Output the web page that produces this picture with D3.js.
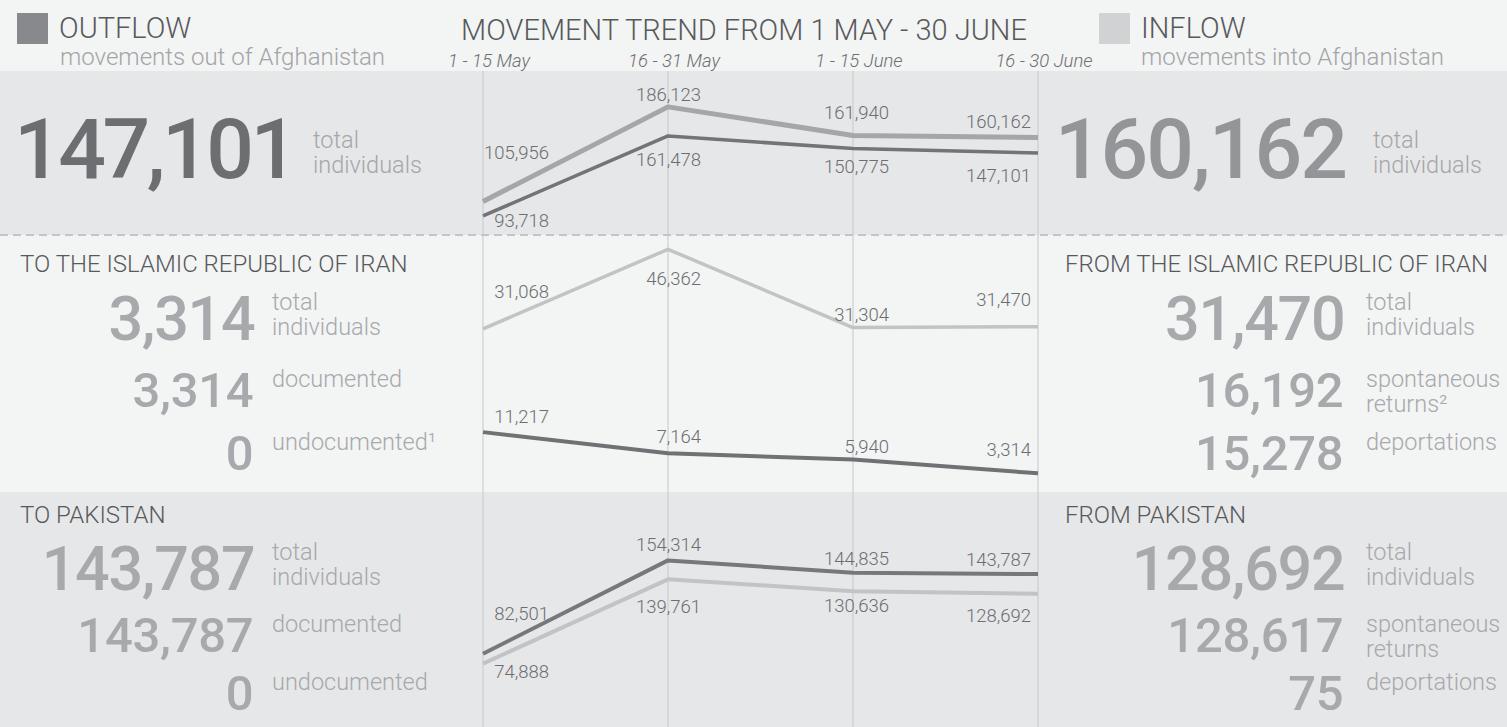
<!DOCTYPE html>
<html><head><meta charset="utf-8">
<script src="https://cdn.jsdelivr.net/npm/d3@7"></script>
<style>body{margin:0;background:#f3f4f4;}svg{display:block;font-family:Roboto,"Noto Sans",sans-serif;}</style>
</head><body><svg id="c" width="1507" height="727"></svg>
<script>
// ---------- DATA ----------
const periods = ["1 - 15 May", "16 - 31 May", "1 - 15 June", "16 - 30 June"];
const totalInflow  = [105956, 186123, 161940, 160162];
const totalOutflow = [93718, 161478, 150775, 147101];
const iranInflow   = [31068, 46362, 31304, 31470];
const iranOutflow  = [11217, 7164, 5940, 3314];
const pakOutflow   = [82501, 154314, 144835, 143787];
const pakInflow    = [74888, 139761, 130636, 128692];

const outflowTotal = 147101;
const inflowTotal = 160162;
const iranOutValues = [3314, 3314, 0];
const iranOutLabels = ["total\nindividuals", "documented", "undocumented¹"];
const pakOutValues = [143787, 143787, 0];
const pakOutLabels = ["total\nindividuals", "documented", "undocumented"];
const iranInValues = [31470, 16192, 15278];
const iranInLabels = ["total\nindividuals", "spontaneous\nreturns²", "deportations"];
const pakInValues = [128692, 128617, 75];
const pakInLabels = ["total\nindividuals", "spontaneous\nreturns", "deportations"];

// ---------- LAYOUT ----------
const W = 1507, H = 727;
const svg = d3.select("#c");
const fmt = d3.format(",");
const LIGHT = 300;
const NUMW = 500;

// backgrounds
const bands = [[0, 71, "#f3f4f4"], [71, 235, "#e6e7e8"], [235, 492, "#f3f4f4"], [492, 727, "#e6e7e8"]];
svg.selectAll("rect.bg").data(bands).join("rect").attr("class", "bg")
  .attr("x", 0).attr("y", d => d[0]).attr("width", W).attr("height", d => d[1] - d[0]).attr("fill", d => d[2]);

// x scale
const x = d3.scalePoint().domain(periods).range([483, 1038]);

// vertical grid lines
svg.selectAll("line.vg").data(periods).join("line").attr("class", "vg")
  .attr("x1", d => x(d)).attr("x2", d => x(d)).attr("y1", 71).attr("y2", H)
  .attr("stroke", "#c6c7c9").attr("stroke-width", 1);

// dashed separator
svg.append("line").attr("x1", 0).attr("x2", W).attr("y1", 235).attr("y2", 235)
  .attr("stroke", "#c4c5c7").attr("stroke-width", 1.8).attr("stroke-dasharray", "8,5");

// header
svg.append("rect").attr("x", 17).attr("y", 13).attr("width", 31).attr("height", 31).attr("fill", "#88898c");
svg.append("text").attr("x", 59).attr("y", 38).attr("font-size", 29).attr("font-weight", LIGHT).attr("fill", "#58595b").text("OUTFLOW");
svg.append("text").attr("x", 60).attr("y", 65).attr("font-size", 24).attr("font-weight", LIGHT).attr("fill", "#a3a4a7").text("movements out of Afghanistan");
svg.append("text").attr("x", 744).attr("y", 40).attr("text-anchor", "middle").attr("font-size", 29).attr("font-weight", LIGHT).attr("fill", "#58595b").text("MOVEMENT TREND FROM 1 MAY - 30 JUNE");
svg.append("rect").attr("x", 1099).attr("y", 13).attr("width", 31).attr("height", 31).attr("fill", "#d1d2d4");
svg.append("text").attr("x", 1141).attr("y", 38).attr("font-size", 29).attr("font-weight", LIGHT).attr("fill", "#58595b").text("INFLOW");
svg.append("text").attr("x", 1141).attr("y", 65).attr("font-size", 24).attr("font-weight", LIGHT).attr("fill", "#a3a4a7").text("movements into Afghanistan");

// period labels
svg.selectAll("text.per").data(periods).join("text").attr("class", "per")
  .attr("x", d => x(d) + 6).attr("y", 67).attr("text-anchor", "middle")
  .attr("font-size", 18.5).attr("font-style", "italic").attr("font-weight", LIGHT).attr("fill", "#6d6e71").text(d => d);

// ---------- LINE PANELS ----------
const labelDx = [66, 33, 36, -7];
const panels = [
  { y: d3.scaleLinear().domain([77540, 216525]).range([235, 71]),
    series: [
      { values: totalInflow, color: "#a5a6a9", width: 5, dy: [-42.5, -6, -16, -9.5] },
      { values: totalOutflow, color: "#737477", width: 3.5, dy: [11, 30, 24.5, 29] }
    ] },
  { y: d3.scaleLinear().domain([0, 49000]).range([490.5, 235.55]),
    series: [
      { values: iranInflow, color: "#c2c3c5", width: 3.5, dy: [-31, 36, -7, -21] },
      { values: iranOutflow, color: "#707174", width: 4, dy: [-9.5, -10, -7, -17] }
    ] },
  { y: d3.scaleLinear().domain([26150, 206920]).range([727, 492]),
    series: [
      { values: pakOutflow, color: "#77787b", width: 4, dy: [-33.7, -9.7, -7.7, -8.1] },
      { values: pakInflow, color: "#c2c3c5", width: 4, dy: [14.7, 34, 20.5, 28] }
    ] }
];

panels.forEach(p => {
  p.series.forEach(s => {
    const line = d3.line().x((d, i) => x(periods[i])).y(d => p.y(d));
    svg.append("path").datum(s.values).attr("d", line)
      .attr("fill", "none").attr("stroke", s.color).attr("stroke-width", s.width)
      .attr("stroke-linejoin", "round");
  });
  p.series.forEach(s => {
    svg.append("g").selectAll("text").data(s.values).join("text")
      .attr("x", (d, i) => x(periods[i]) + labelDx[i])
      .attr("y", (d, i) => p.y(d) + s.dy[i])
      .attr("text-anchor", "end").attr("font-size", 18.5).attr("font-weight", LIGHT)
      .attr("fill", "#6d6e71").text(d => fmt(d));
  });
});

// ---------- SUMMARY BLOCKS ----------
svg.append("text").attr("x", 14).attr("y", 178).attr("font-size", 84).attr("font-weight", NUMW)
  .attr("letter-spacing", -3.5).attr("fill", "#6d6e71").text(fmt(outflowTotal));
svg.append("text").attr("x", 1346).attr("y", 178).attr("text-anchor", "end").attr("font-size", 84).attr("font-weight", NUMW)
  .attr("letter-spacing", -2).attr("fill", "#939598").text(fmt(inflowTotal));
function twoLine(xp, base, lines, size, color) {
  const t = svg.append("text").attr("x", xp).attr("font-size", size).attr("font-weight", LIGHT).attr("fill", color);
  lines.forEach((l, i) => t.append("tspan").attr("x", xp).attr("y", base + i * 25).text(l));
}
twoLine(313, 148, ["total", "individuals"], 23.5, "#a5a6a9");
twoLine(1373, 148, ["total", "individuals"], 23.5, "#a5a6a9");

function block(title, tx, ty, values, labels, numX, labX, baselines) {
  svg.append("text").attr("x", tx).attr("y", ty).attr("font-size", 24).attr("font-weight", LIGHT)
    .attr("fill", "#58595b").text(title);
  values.forEach((v, i) => {
    const ls = i === 0 ? -1.3 : -0.3;
    svg.append("text").attr("x", numX - ls).attr("y", baselines[i]).attr("text-anchor", "end")
      .attr("font-size", i === 0 ? 61 : 49).attr("font-weight", NUMW).attr("letter-spacing", ls)
      .attr("fill", "#a7a9ac").text(fmt(v));
    const lines = labels[i].split("\n");
    const start = i === 0 ? baselines[i] - 30 : baselines[i] - 20;
    twoLine(labX, start, lines, 23.5, "#a7a9ac");
  });
}
block("TO THE ISLAMIC REPUBLIC OF IRAN", 20, 272, iranOutValues, iranOutLabels, 253, 272, [340, 407, 470]);
block("FROM THE ISLAMIC REPUBLIC OF IRAN", 1065, 272, iranInValues, iranInLabels, 1343, 1366, [340, 407, 470]);
block("TO PAKISTAN", 20, 523, pakOutValues, pakOutLabels, 253, 272, [590, 652, 710]);
block("FROM PAKISTAN", 1065, 523, pakInValues, pakInLabels, 1343, 1366, [590, 652, 710]);
</script></body></html>
